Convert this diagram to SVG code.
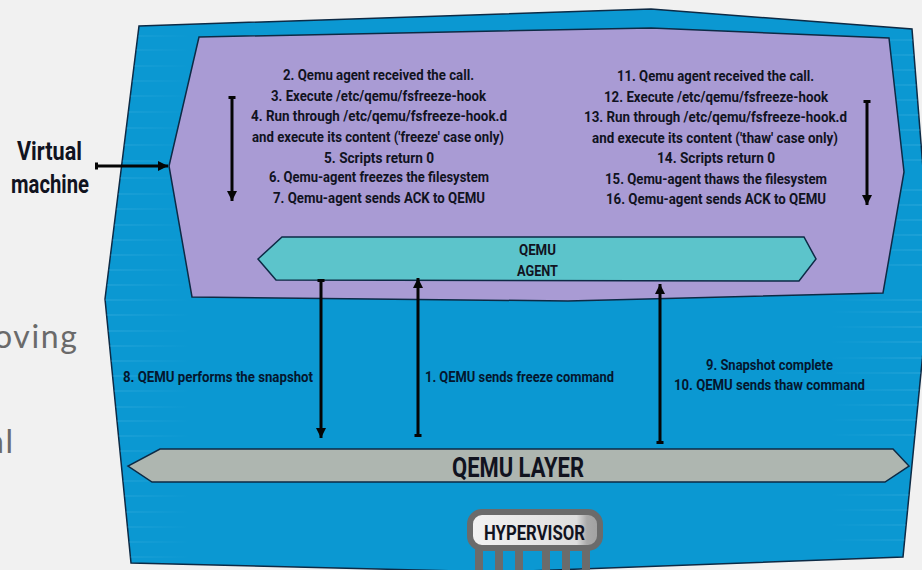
<svg xmlns="http://www.w3.org/2000/svg" width="922" height="570" viewBox="0 0 922 570">
<style>
.t{font-family:Roboto,"Liberation Sans",sans-serif;font-weight:700;fill:#11131f;text-anchor:start}
.s{font-size:15.5px}
.d{font-size:15.5px;fill:#04162e}
.bg{font-family:Lato,"Open Sans",sans-serif;font-size:32px;fill:#6a6a6a;letter-spacing:1.6px}
.c{stroke:#050505;stroke-width:3;fill:none;marker-end:url(#head);marker-start:url(#tail)}
.shape{stroke:#0d2a45;stroke-width:1.5;stroke-linejoin:miter}
</style>
<defs>
<marker id="head" markerUnits="userSpaceOnUse" markerWidth="12" markerHeight="14" refX="10" refY="5" orient="auto"><path d="M0 0L10 5L0 10Z" fill="#050505"/></marker>
<marker id="tail" markerUnits="userSpaceOnUse" markerWidth="6" markerHeight="10" refX="2" refY="4" orient="auto"><rect x="0" y="0.5" width="3" height="7" fill="#050505"/></marker>
<clipPath id="outerClip"><path d="M139 26L651 9L912 29L931 270L903 557L500 572L131 563L105 299Z"/></clipPath>
<linearGradient id="stripeL" gradientUnits="userSpaceOnUse" x1="105" y1="0" x2="190" y2="0"><stop offset="0" stop-color="#6cc6ea" stop-opacity="0.35"/><stop offset="1" stop-color="#6cc6ea" stop-opacity="0"/></linearGradient>
<linearGradient id="stripeR" gradientUnits="userSpaceOnUse" x1="922" y1="0" x2="830" y2="0"><stop offset="0" stop-color="#6cc6ea" stop-opacity="0.35"/><stop offset="1" stop-color="#6cc6ea" stop-opacity="0"/></linearGradient>
<linearGradient id="chipFill" x1="0" y1="0" x2="1" y2="0"><stop offset="0" stop-color="#f2f2f2"/><stop offset="0.82" stop-color="#dedede"/><stop offset="0.9" stop-color="#a9a9a9"/><stop offset="1" stop-color="#a0a0a0"/></linearGradient>
</defs>
<rect width="922" height="570" fill="#f1f1f1"/>
<text class="bg" x="-6" y="348">oving</text>
<text class="bg" x="-12" y="453">al</text>

<g id="vm-host">
<path class="shape" d="M139 26L651 9L912 29L931 270L903 557L500 572L131 563L105 299Z" fill="#0b98d2"/>
<g clip-path="url(#outerClip)" fill="none" stroke-width="1">
<path stroke="url(#stripeL)" d="M100 36H200M100 50H200M100 66H200M100 81H200M100 96H200M100 112H200M100 128H200M100 145H200M100 161H200M100 178H200M100 194H200M100 209H200M100 225H200M100 240H200M100 255H200M100 270H200M100 285H200M100 300H200M100 315H200M100 331H200M100 346H200M100 361H200M100 376H200M100 391H200M100 407H200M100 421H200M100 436H200M100 451H200M100 481H200M100 496H200M100 512H200M100 527H200M100 542H200M100 557H200"/>
<path stroke="url(#stripeR)" d="M820 40H925M820 55H925M820 70H925M820 85H925M820 100H925M820 115H925M820 130H925M820 145H925M820 160H925M820 190H925M820 205H925M820 220H925M820 235H925M820 250H925M820 265H925M820 300H925M820 312H925M820 327H925M820 342H925M820 358H925M820 373H925M820 390H925M820 405H925M820 420H925M820 435H925M820 495H925M820 510H925M820 525H925M820 540H925"/>
</g>
</g>

<g id="virtual-machine">
<path class="shape" d="M199 37L651 28L889 38L904 172L883 293L568 301L192 297L169 166Z" fill="#a99bd4"/>
<g class="t s">
<text x="283" y="80" textLength="191" lengthAdjust="spacingAndGlyphs">2. Qemu agent received the call.</text>
<text x="271" y="101" textLength="215" lengthAdjust="spacingAndGlyphs">3. Execute /etc/qemu/fsfreeze-hook</text>
<text x="251" y="121" textLength="256" lengthAdjust="spacingAndGlyphs">4. Run through /etc/qemu/fsfreeze-hook.d</text>
<text x="252" y="142" textLength="252" lengthAdjust="spacingAndGlyphs">and execute its content ('freeze' case only)</text>
<text x="324" y="163" textLength="110" lengthAdjust="spacingAndGlyphs">5. Scripts return 0</text>
<text x="269" y="182" textLength="220" lengthAdjust="spacingAndGlyphs">6. Qemu-agent freezes the filesystem</text>
<text x="273" y="203" textLength="212" lengthAdjust="spacingAndGlyphs">7. Qemu-agent sends ACK to QEMU</text>
<text x="617" y="81" textLength="197" lengthAdjust="spacingAndGlyphs">11. Qemu agent received the call.</text>
<text x="604" y="102" textLength="224" lengthAdjust="spacingAndGlyphs">12. Execute /etc/qemu/fsfreeze-hook</text>
<text x="584" y="122" textLength="263" lengthAdjust="spacingAndGlyphs">13. Run through /etc/qemu/fsfreeze-hook.d</text>
<text x="592" y="143" textLength="246" lengthAdjust="spacingAndGlyphs">and execute its content ('thaw' case only)</text>
<text x="657" y="163" textLength="118" lengthAdjust="spacingAndGlyphs">14. Scripts return 0</text>
<text x="605" y="184" textLength="222" lengthAdjust="spacingAndGlyphs">15. Qemu-agent thaws the filesystem</text>
<text x="606" y="204" textLength="220" lengthAdjust="spacingAndGlyphs">16. Qemu-agent sends ACK to QEMU</text>
</g>
</g>

<g id="qemu-agent">
<path class="shape" d="M282 237L804 237L816 259L799 281L276 280L258 259Z" fill="#5cc4cb"/>
<text class="t s" x="519" y="255" textLength="37" lengthAdjust="spacingAndGlyphs">QEMU</text>
<text class="t s" x="517" y="276" textLength="41" lengthAdjust="spacingAndGlyphs">AGENT</text>
</g>

<g id="qemu-layer">
<path class="shape" d="M160 449L893 449L909 466L885 482L152 482L128 466Z" fill="#aeb6b0"/>
<text class="t" x="452" y="477" font-size="28" textLength="132" lengthAdjust="spacingAndGlyphs">QEMU LAYER</text>
</g>

<g id="hypervisor">
<g fill="#6b6b6b">
<rect x="475" y="548" width="8" height="22"/>
<rect x="495" y="548" width="8" height="22"/>
<rect x="515" y="548" width="8" height="22"/>
<rect x="542" y="548" width="8" height="22"/>
<rect x="562" y="548" width="8" height="22"/>
<rect x="582" y="548" width="8" height="22"/>
</g>
<rect x="470" y="512" width="130" height="36" rx="12" fill="url(#chipFill)" stroke="#6b6b6b" stroke-width="6"/>
<text class="t" x="484" y="540" font-size="20" textLength="101" lengthAdjust="spacingAndGlyphs">HYPERVISOR</text>
</g>

<g id="connectors">
<path class="c" d="M232 98V201"/>
<path class="c" d="M867 102V205"/>
<path class="c" d="M97 166H168"/>
<path class="c" d="M321 281V438"/>
<path class="c" d="M418 435V278"/>
<path class="c" d="M660 442V284"/>
</g>

<g id="connector-labels" class="t d">
<text x="123" y="382" textLength="190" lengthAdjust="spacingAndGlyphs">8. QEMU performs the snapshot</text>
<text x="425" y="382" textLength="189" lengthAdjust="spacingAndGlyphs">1. QEMU sends freeze command</text>
<text x="706" y="370" textLength="127" lengthAdjust="spacingAndGlyphs">9. Snapshot complete</text>
<text x="674" y="390" textLength="191" lengthAdjust="spacingAndGlyphs">10. QEMU sends thaw command</text>
</g>

<g id="vm-label" class="t">
<text x="17" y="160" font-size="25" textLength="65" lengthAdjust="spacingAndGlyphs">Virtual</text>
<text x="11" y="193" font-size="25" textLength="78" lengthAdjust="spacingAndGlyphs">machine</text>
</g>
</svg>
